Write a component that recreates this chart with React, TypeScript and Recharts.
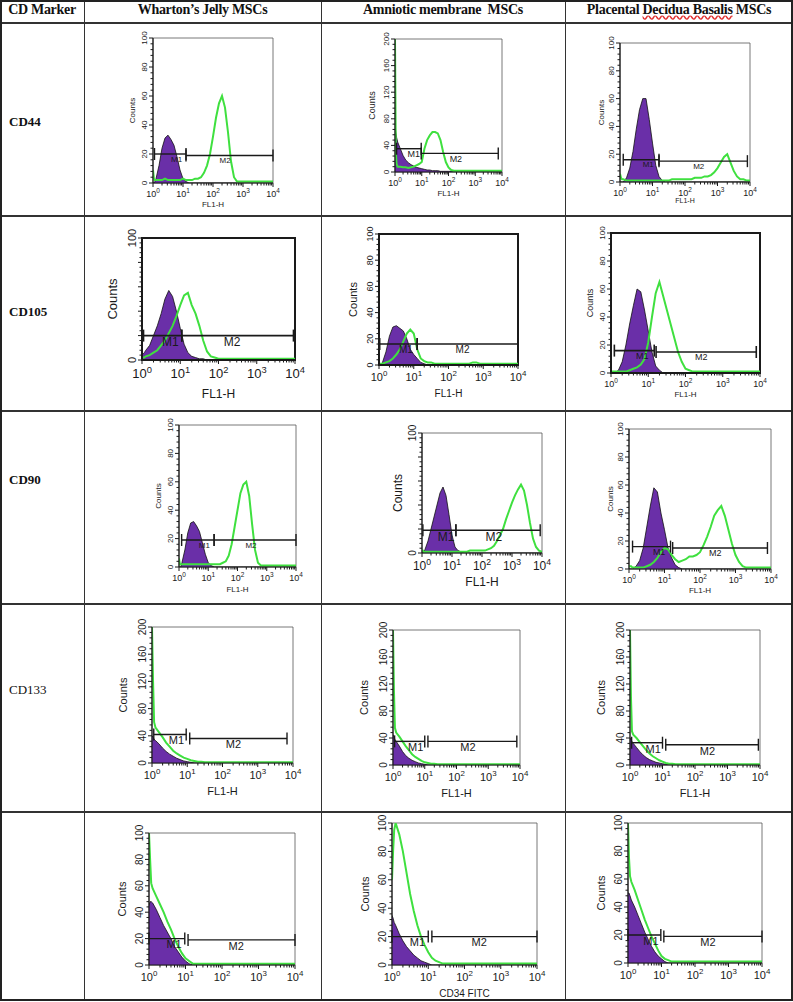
import React from 'react';
import { ComposedChart, Area, Line, XAxis, YAxis, ReferenceLine, ReferenceArea, ReferenceDot } from 'recharts';

// log10 of fluorescence (FL1-H), 10^0 .. 10^4
const LOG_X = [0, 0.03, 0.06, 0.1, 0.2, 0.3, 0.4, 0.5, 0.6, 0.7, 0.8, 0.9, 1,
  1.1, 1.2, 1.3, 1.4, 1.5, 1.6, 1.7, 1.8, 1.9, 2,
  2.1, 2.2, 2.3, 2.4, 2.5, 2.6, 2.7, 2.8, 2.9, 3,
  3.1, 3.2, 3.3, 3.4, 3.5, 3.6, 3.7, 3.8, 3.9, 4];
const X_EXPONENTS = ['0', '1', '2', '3', '4'];
const COL_HEADERS = ['CD Marker', 'Wharton\u2019s Jelly MSCs', 'Amniotic membrane  MSCs', 'Placental Decidua Basalis MSCs'];
const ROW_LABELS = ['CD44', 'CD105', 'CD90', 'CD133', ''];

// ---- CD44 ----
const WJ_CD44_NEG = [0, 0, 1, 3, 12, 24, 31, 33, 30, 26, 18, 9, 3, 1, 0, 0, 0, 0, 0, 0, 0, 0, 0, 0, 0, 0, 0, 0, 0, 0, 0, 0, 0, 0, 0, 0, 0, 0, 0, 0, 0, 0, 0];
const WJ_CD44_POS = [9, 3, 2, 2, 2, 2, 3, 2, 2, 2, 2, 2, 3, 2, 2, 2, 3, 3, 4, 7, 12, 20, 32, 45, 55, 60, 52, 35, 15, 4, 1, 1, 1, 1, 1, 1, 1, 1, 1, 1, 1, 1, 1];
const WJ_CD44_GATES = [0.05, 1.1, 20, 1.1, 4.0, 19];
const AM_CD44_NEG = [72, 60, 52, 45, 35, 25, 18, 14, 11, 9, 7, 6, 5, 4, 3, 3, 2, 2, 2, 1, 1, 1, 1, 1, 0, 0, 0, 0, 0, 0, 0, 0, 0, 0, 0, 0, 0, 0, 0, 0, 0, 0, 0];
const AM_CD44_POS = [200, 30, 12, 8, 8, 7, 7, 6, 7, 8, 10, 12, 15, 35, 48, 55, 60, 60, 58, 48, 30, 15, 7, 3, 2, 2, 2, 2, 2, 2, 2, 2, 2, 2, 2, 2, 2, 2, 2, 2, 2, 2, 2];
const AM_CD44_GATES = [0.06, 0.98, 35, 0.98, 3.86, 28];
const PDB_CD44_NEG = [0, 0, 0, 0, 3, 10, 22, 38, 52, 60, 60, 45, 28, 12, 4, 1, 0, 0, 0, 0, 0, 0, 0, 0, 0, 0, 0, 0, 0, 0, 0, 0, 0, 0, 0, 0, 0, 0, 0, 0, 0, 0, 0];
const PDB_CD44_POS = [6, 3, 2, 2, 1, 1, 1, 1, 1, 1, 1, 1, 1, 1, 1, 1, 1, 1, 2, 2, 2, 2, 2, 2, 2, 3, 3, 3, 4, 4, 5, 7, 10, 14, 18, 20, 14, 8, 4, 2, 2, 1, 1];
const PDB_CD44_GATES = [0.1, 1.2, 16, 1.2, 3.92, 15];

// ---- CD105 ----
const WJ_CD105_NEG = [4, 5, 6, 8, 12, 20, 28, 38, 50, 57, 52, 40, 26, 13, 6, 3, 2, 1, 1, 0, 0, 0, 0, 0, 0, 0, 0, 0, 0, 0, 0, 0, 0, 0, 0, 0, 0, 0, 0, 0, 0, 0, 0];
const WJ_CD105_POS = [2, 2, 2, 3, 4, 6, 8, 12, 16, 22, 28, 36, 45, 53, 55, 45, 38, 28, 16, 7, 3, 2, 1, 1, 1, 1, 1, 1, 1, 1, 1, 1, 1, 1, 1, 1, 1, 1, 1, 1, 1, 1, 1];
const WJ_CD105_GATES = [0.04, 1.04, 20, 1.04, 3.96, 20];
const AM_CD105_NEG = [0, 0, 0, 2, 10, 22, 29, 30, 28, 26, 20, 12, 8, 5, 2, 1, 0, 0, 0, 0, 0, 0, 0, 0, 0, 0, 0, 0, 0, 0, 0, 0, 0, 0, 0, 0, 0, 0, 0, 0, 0, 0, 0];
const AM_CD105_POS = [1, 1, 1, 1, 2, 3, 5, 8, 12, 18, 24, 27, 24, 12, 5, 3, 2, 2, 1, 1, 1, 1, 1, 1, 1, 1, 1, 1, 1, 2, 2, 1, 1, 1, 1, 1, 1, 1, 1, 1, 1, 1, 1];
const AM_CD105_GATES = [0.02, 1.1, 16, 1.1, 4.0, 16];
const PDB_CD105_NEG = [0, 0, 0, 0, 2, 8, 20, 35, 48, 60, 58, 45, 30, 15, 5, 2, 0, 0, 0, 0, 0, 0, 0, 0, 0, 0, 0, 0, 0, 0, 0, 0, 0, 0, 0, 0, 0, 0, 0, 0, 0, 0, 0];
const PDB_CD105_POS = [1, 1, 1, 1, 1, 1, 1, 2, 3, 4, 6, 10, 22, 40, 57, 65, 55, 45, 35, 25, 15, 8, 3, 2, 1, 1, 1, 1, 1, 1, 1, 1, 1, 1, 1, 1, 1, 1, 1, 1, 1, 1, 1];
const PDB_CD105_GATES = [0.09, 1.16, 16, 1.21, 3.9, 15];

// ---- CD90 ----
const WJ_CD90_NEG = [0, 0, 0, 3, 12, 24, 31, 32, 29, 25, 17, 9, 3, 1, 0, 0, 0, 0, 0, 0, 0, 0, 0, 0, 0, 0, 0, 0, 0, 0, 0, 0, 0, 0, 0, 0, 0, 0, 0, 0, 0, 0, 0];
const WJ_CD90_POS = [6, 2, 2, 2, 2, 2, 2, 2, 2, 2, 2, 2, 2, 2, 2, 2, 2, 3, 4, 8, 16, 28, 40, 52, 58, 60, 50, 30, 12, 3, 1, 1, 1, 1, 1, 1, 1, 1, 1, 1, 1, 1, 1];
const WJ_CD90_GATES = [0.09, 1.2, 19, 1.2, 4.0, 19];
const AM_CD90_NEG = [0, 0, 1, 3, 10, 20, 30, 40, 50, 55, 48, 32, 15, 5, 2, 1, 0, 0, 0, 0, 0, 0, 0, 0, 0, 0, 0, 0, 0, 0, 0, 0, 0, 0, 0, 0, 0, 0, 0, 0, 0, 0, 0];
const AM_CD90_POS = [2, 2, 1, 1, 1, 1, 1, 1, 1, 1, 1, 1, 1, 1, 1, 1, 1, 1, 2, 2, 2, 2, 2, 2, 3, 4, 6, 10, 15, 20, 28, 35, 42, 48, 53, 57, 52, 40, 25, 12, 5, 2, 1];
const AM_CD90_GATES = [0.03, 1.13, 19, 1.13, 3.94, 19];
const PDB_CD90_NEG = [0, 0, 0, 0, 2, 6, 15, 30, 45, 58, 55, 40, 28, 15, 8, 3, 1, 0, 0, 0, 0, 0, 0, 0, 0, 0, 0, 0, 0, 0, 0, 0, 0, 0, 0, 0, 0, 0, 0, 0, 0, 0, 0];
const PDB_CD90_POS = [2, 2, 2, 1, 1, 1, 1, 2, 3, 5, 8, 12, 15, 14, 10, 7, 5, 6, 7, 9, 9, 10, 12, 17, 23, 30, 38, 42, 45, 38, 28, 18, 10, 5, 2, 1, 1, 1, 1, 1, 1, 1, 1];
const PDB_CD90_GATES = [0.1, 1.17, 16, 1.23, 3.9, 15];

// ---- CD133 ----
const WJ_CD133_NEG = [40, 38, 35, 33, 28, 22, 17, 13, 10, 7, 5, 3, 2, 1, 0, 0, 0, 0, 0, 0, 0, 0, 0, 0, 0, 0, 0, 0, 0, 0, 0, 0, 0, 0, 0, 0, 0, 0, 0, 0, 0, 0, 0];
const WJ_CD133_POS = [200, 120, 60, 52, 45, 38, 30, 24, 18, 14, 11, 8, 6, 4, 3, 2, 2, 1, 1, 1, 1, 1, 1, 1, 1, 1, 1, 1, 1, 1, 1, 1, 1, 1, 1, 1, 1, 1, 1, 1, 1, 1, 1];
const WJ_CD133_GATES = [0.05, 0.97, 42, 1.07, 3.83, 36];
const AM_CD133_NEG = [45, 42, 38, 35, 28, 20, 14, 10, 7, 5, 3, 2, 1, 0, 0, 0, 0, 0, 0, 0, 0, 0, 0, 0, 0, 0, 0, 0, 0, 0, 0, 0, 0, 0, 0, 0, 0, 0, 0, 0, 0, 0, 0];
const AM_CD133_POS = [200, 110, 55, 48, 42, 35, 28, 22, 16, 12, 9, 6, 4, 3, 2, 2, 1, 1, 1, 1, 1, 1, 1, 1, 1, 1, 1, 1, 1, 1, 1, 1, 1, 1, 1, 1, 1, 1, 1, 1, 1, 1, 1];
const AM_CD133_GATES = [0.05, 1.0, 35, 1.1, 3.9, 35];
const PDB_CD133_NEG = [40, 38, 35, 32, 26, 20, 15, 11, 8, 6, 4, 3, 2, 1, 0, 0, 0, 0, 0, 0, 0, 0, 0, 0, 0, 0, 0, 0, 0, 0, 0, 0, 0, 0, 0, 0, 0, 0, 0, 0, 0, 0, 0];
const PDB_CD133_POS = [200, 100, 50, 45, 40, 34, 28, 22, 17, 13, 10, 7, 5, 3, 2, 2, 1, 1, 1, 1, 1, 1, 1, 1, 1, 1, 1, 1, 1, 1, 1, 1, 1, 1, 1, 1, 1, 1, 1, 1, 1, 1, 1];
const PDB_CD133_GATES = [0.05, 1.0, 33, 1.1, 3.95, 30];

// ---- CD34 ----
const WJ_CD34_NEG = [45, 48, 48, 47, 42, 36, 30, 25, 20, 14, 10, 6, 3, 1, 0, 0, 0, 0, 0, 0, 0, 0, 0, 0, 0, 0, 0, 0, 0, 0, 0, 0, 0, 0, 0, 0, 0, 0, 0, 0, 0, 0, 0];
const WJ_CD34_POS = [100, 80, 62, 58, 52, 46, 40, 33, 27, 20, 14, 9, 5, 3, 1, 1, 1, 1, 1, 1, 1, 1, 1, 1, 1, 1, 1, 1, 1, 1, 1, 1, 1, 1, 1, 1, 1, 1, 1, 1, 1, 1, 1];
const WJ_CD34_GATES = [0, 0.98, 20, 1.07, 4.0, 19];
const AM_CD34_NEG = [35, 33, 30, 28, 22, 17, 13, 10, 7, 5, 3, 2, 1, 0, 0, 0, 0, 0, 0, 0, 0, 0, 0, 0, 0, 0, 0, 0, 0, 0, 0, 0, 0, 0, 0, 0, 0, 0, 0, 0, 0, 0, 0];
const AM_CD34_POS = [60, 80, 95, 100, 92, 80, 65, 50, 38, 28, 20, 14, 9, 5, 3, 2, 1, 1, 1, 1, 1, 1, 1, 1, 1, 1, 1, 1, 1, 1, 1, 1, 1, 1, 1, 1, 1, 1, 1, 1, 1, 1, 1];
const AM_CD34_GATES = [0, 1.0, 20, 1.1, 4.0, 20];
const PDB_CD34_NEG = [50, 50, 48, 45, 40, 34, 28, 22, 17, 12, 8, 5, 3, 1, 0, 0, 0, 0, 0, 0, 0, 0, 0, 0, 0, 0, 0, 0, 0, 0, 0, 0, 0, 0, 0, 0, 0, 0, 0, 0, 0, 0, 0];
const PDB_CD34_POS = [100, 75, 62, 58, 52, 45, 38, 31, 25, 19, 14, 9, 5, 3, 2, 1, 1, 1, 1, 1, 1, 1, 1, 1, 1, 1, 1, 1, 1, 1, 1, 1, 1, 1, 1, 1, 1, 1, 1, 1, 1, 1, 1];
const PDB_CD34_GATES = [0, 0.98, 20, 1.07, 4.0, 19];

const Y100 = [0, 20, 40, 60, 80, 100];
const Y200 = [0, 40, 80, 120, 160, 200];
const Y100_SPARSE = [0, 100];

// layout (positions / fonts) kept separate from data
type Panel = {
  neg: number[]; pos: number[]; gates: number[]; yMax: number; yLab: number[];
  plot: [number, number, number, number]; f: [number, number, number, number, number];
  cdx: number; ldy: number; thick: boolean; xLabel: string;
};
const PANELS: Panel[] = [
  { neg: WJ_CD44_NEG, pos: WJ_CD44_POS, gates: WJ_CD44_GATES, yMax: 100, yLab: Y100, plot: [153, 38, 120, 145], f: [8, 9, 8, 8, 8], cdx: 21, ldy: 22, thick: false, xLabel: 'FL1-H' },
  { neg: AM_CD44_NEG, pos: AM_CD44_POS, gates: AM_CD44_GATES, yMax: 200, yLab: Y200, plot: [395, 39, 107, 133], f: [8, 9, 9, 8, 9], cdx: 23, ldy: 22, thick: false, xLabel: 'FL1-H' },
  { neg: PDB_CD44_NEG, pos: PDB_CD44_POS, gates: PDB_CD44_GATES, yMax: 100, yLab: Y100, plot: [620, 43, 130, 139], f: [8, 9, 8, 7, 8], cdx: 19, ldy: 20, thick: false, xLabel: 'FL1-H' },
  { neg: WJ_CD105_NEG, pos: WJ_CD105_POS, gates: WJ_CD105_GATES, yMax: 100, yLab: Y100_SPARSE, plot: [142, 238, 153, 122], f: [11, 13, 13, 12, 12], cdx: 30, ldy: 35, thick: true, xLabel: 'FL1-H' },
  { neg: AM_CD105_NEG, pos: AM_CD105_POS, gates: AM_CD105_GATES, yMax: 100, yLab: Y100, plot: [379, 234, 139, 131], f: [9, 11, 11, 10, 10], cdx: 26, ldy: 30, thick: true, xLabel: 'FL1-H' },
  { neg: PDB_CD105_NEG, pos: PDB_CD105_POS, gates: PDB_CD105_GATES, yMax: 100, yLab: Y100, plot: [611, 233, 149, 140], f: [8, 9, 9, 8, 9], cdx: 21, ldy: 22, thick: true, xLabel: 'FL1-H' },
  { neg: WJ_CD90_NEG, pos: WJ_CD90_POS, gates: WJ_CD90_GATES, yMax: 100, yLab: Y100, plot: [179, 425, 117, 142], f: [8, 9, 8, 8, 8], cdx: 21, ldy: 23, thick: false, xLabel: 'FL1-H' },
  { neg: AM_CD90_NEG, pos: AM_CD90_POS, gates: AM_CD90_GATES, yMax: 100, yLab: Y100_SPARSE, plot: [422, 433, 120, 120], f: [10, 12, 12, 12, 12], cdx: 24, ldy: 30, thick: false, xLabel: 'FL1-H' },
  { neg: PDB_CD90_NEG, pos: PDB_CD90_POS, gates: PDB_CD90_GATES, yMax: 100, yLab: Y100, plot: [629, 429, 142, 140], f: [8, 9, 8, 8, 9], cdx: 19, ldy: 22, thick: false, xLabel: 'FL1-H' },
  { neg: WJ_CD133_NEG, pos: WJ_CD133_POS, gates: WJ_CD133_GATES, yMax: 200, yLab: Y200, plot: [152, 627, 141, 136], f: [10, 11, 11, 11, 11], cdx: 29, ldy: 30, thick: false, xLabel: 'FL1-H' },
  { neg: AM_CD133_NEG, pos: AM_CD133_POS, gates: AM_CD133_GATES, yMax: 200, yLab: Y200, plot: [393, 630, 127, 135], f: [10, 11, 11, 11, 11], cdx: 29, ldy: 30, thick: false, xLabel: 'FL1-H' },
  { neg: PDB_CD133_NEG, pos: PDB_CD133_POS, gates: PDB_CD133_GATES, yMax: 200, yLab: Y200, plot: [630, 630, 130, 135], f: [10, 11, 11, 11, 11], cdx: 29, ldy: 30, thick: false, xLabel: 'FL1-H' },
  { neg: WJ_CD34_NEG, pos: WJ_CD34_POS, gates: WJ_CD34_GATES, yMax: 100, yLab: Y100, plot: [149, 833, 146, 132], f: [10, 11, 11, 11, 11], cdx: 27, ldy: 30, thick: false, xLabel: '' },
  { neg: AM_CD34_NEG, pos: AM_CD34_POS, gates: AM_CD34_GATES, yMax: 100, yLab: Y100, plot: [392, 823, 145, 142], f: [10, 11, 11, 10, 11], cdx: 27, ldy: 30, thick: false, xLabel: 'CD34  FITC' },
  { neg: PDB_CD34_NEG, pos: PDB_CD34_POS, gates: PDB_CD34_GATES, yMax: 100, yLab: Y100, plot: [628, 823, 134, 140], f: [10, 11, 11, 11, 11], cdx: 27, ldy: 30, thick: false, xLabel: '' },
];

const SANS = '"Liberation Sans", Arial, sans-serif';
const SERIF = '"Liberation Serif", "Times New Roman", serif';
const PURPLE = '#6a2fa8';
const GREEN = '#3fe03f';
const INK = '#1a1a1a';

const X_TICKS: number[] = [];
for (let n = 0; n < 4; n++) {
  X_TICKS.push(n);
  for (let k = 2; k <= 9; k++) X_TICKS.push(n + Math.log10(k));
}
X_TICKS.push(4);

const makeXTick = (fs: number) => (props: any) => {
  const { x, y, payload } = props;
  const v = payload.value as number;
  const major = Math.abs(v - Math.round(v)) < 1e-6;
  return (
    <g>
      <line x1={x} x2={x} y1={y} y2={y + (major ? 4 : 2.5)} stroke={INK} strokeWidth={1} />
      {major && (
        <text x={x} y={y + 5 + fs} textAnchor="middle" fontSize={fs} fill={INK} fontFamily={SANS}>
          <tspan>10</tspan>
          <tspan dy={-fs * 0.42} fontSize={fs * 0.72}>{X_EXPONENTS[Math.round(v)]}</tspan>
        </text>
      )}
    </g>
  );
};

const makeYTick = (fs: number, labeled: number[], yMax: number) => (props: any) => {
  const { x, y, payload } = props;
  const v = payload.value as number;
  const major = Math.round((v * 25) / yMax) % 5 === 0;
  const tx = x - 6;
  return (
    <g>
      <line x1={x - (major ? 4 : 2.5)} x2={x} y1={y} y2={y} stroke={INK} strokeWidth={1} />
      {labeled.includes(v) && (
        <text x={tx} y={y} transform={`rotate(-90 ${tx} ${y})`} textAnchor="middle" fontSize={fs} fill={INK} fontFamily={SANS}>
          {v}
        </text>
      )}
    </g>
  );
};

const ML = 40, MT = 12, MR = 12, XH = 44;

function Histogram({ p }: { p: Panel }) {
  const [px, py, pw, ph] = p.plot;
  const [yf, xf, cf, lf, mf] = p.f;
  const data = LOG_X.map((x, i) => ({ x, neg: p.neg[i], pos: p.pos[i] }));
  const yTicks: number[] = [];
  for (let i = 0; i <= 25; i++) yTicks.push((i * p.yMax) / 25);
  const [a1, a2, ay, b1, b2, by] = p.gates;
  const bar = (p.yMax * 6) / ph;
  const gw = p.thick ? 1.6 : 1.4;
  return (
    <div style={{ position: 'absolute', left: px - ML, top: py - MT }}>
      <ComposedChart width={pw + ML + MR} height={ph + MT + XH} data={data} margin={{ top: MT, right: MR, left: 0, bottom: 0 }}>
        <XAxis
          dataKey="x" type="number" domain={[0, 4]} ticks={X_TICKS} interval={0}
          tick={makeXTick(xf)} tickLine={false} tickSize={0} tickMargin={0} height={XH}
          stroke={INK} strokeWidth={p.thick ? 2 : 1.2} allowDataOverflow
          label={{ value: p.xLabel, position: 'insideTop', offset: p.ldy - lf / 2, style: { fontSize: lf, fill: INK, fontFamily: SANS, whiteSpace: 'pre' } }}
        />
        <YAxis
          type="number" domain={[0, p.yMax]} ticks={yTicks} interval={0}
          tick={makeYTick(yf, p.yLab, p.yMax)} tickLine={false} tickSize={0} tickMargin={0} width={ML}
          stroke={INK} strokeWidth={p.thick ? 2 : 1.2} allowDataOverflow
          label={{ value: 'Counts', angle: -90, position: 'insideLeft', offset: ML - p.cdx, style: { textAnchor: 'middle', fontSize: cf, fill: INK, fontFamily: SANS } }}
        />
        <ReferenceArea x1={0} x2={4} y1={0} y2={p.yMax} fill="none" stroke={p.thick ? INK : '#555'} strokeWidth={p.thick ? 2 : 0.8} ifOverflow="visible" />
        <Area dataKey="neg" type="linear" fill={PURPLE} fillOpacity={1} stroke="#111" strokeWidth={0.8} dot={false} activeDot={false} isAnimationActive={false} />
        <Line dataKey="pos" type="linear" stroke={GREEN} strokeWidth={2} dot={false} activeDot={false} isAnimationActive={false} />
        <ReferenceLine segment={[{ x: a1, y: ay }, { x: a2, y: ay }]} stroke={INK} strokeWidth={gw} ifOverflow="visible" />
        <ReferenceLine segment={[{ x: a1, y: ay - bar }, { x: a1, y: ay + bar }]} stroke={INK} strokeWidth={gw} ifOverflow="visible" />
        <ReferenceLine segment={[{ x: a2, y: ay - bar }, { x: a2, y: ay + bar }]} stroke={INK} strokeWidth={gw} ifOverflow="visible" />
        <ReferenceLine segment={[{ x: b1, y: by }, { x: b2, y: by }]} stroke={INK} strokeWidth={gw} ifOverflow="visible" />
        <ReferenceLine segment={[{ x: b1, y: by - bar }, { x: b1, y: by + bar }]} stroke={INK} strokeWidth={gw} ifOverflow="visible" />
        <ReferenceLine segment={[{ x: b2, y: by - bar }, { x: b2, y: by + bar }]} stroke={INK} strokeWidth={gw} ifOverflow="visible" />
        <ReferenceDot x={a1 + (a2 - a1) * 0.7} y={ay} r={0} fill="none" stroke="none" ifOverflow="visible"
          label={{ value: 'M1', position: 'bottom', offset: 2, fontSize: mf, fill: INK, fontFamily: SANS }} />
        <ReferenceDot x={b1 + (b2 - b1) * 0.45} y={by} r={0} fill="none" stroke="none" ifOverflow="visible"
          label={{ value: 'M2', position: 'bottom', offset: 2, fontSize: mf, fill: INK, fontFamily: SANS }} />
      </ComposedChart>
    </div>
  );
}

const COL_X = [0, 84, 321, 565, 793];
const ROW_Y = [0, 22, 215, 410, 603, 811, 1000];
const ROW_LABEL_Y = [122, 312, 480, 690, 900];

export default function App() {
  const hLine = (y: number, w = 1.5) => (
    <div key={'h' + y} style={{ position: 'absolute', left: 0, top: y, width: 793, height: w, background: '#333' }} />
  );
  const vLine = (x: number) => (
    <div key={'v' + x} style={{ position: 'absolute', left: x, top: 0, width: 1.2, height: 1000, background: '#333' }} />
  );
  return (
    <div style={{ position: 'absolute', left: 0, top: 0, width: 793, height: 1002, background: '#fff', fontFamily: SERIF, overflow: 'hidden' }}>
      {ROW_Y.slice(1, 6).map((y) => hLine(y))}
      {COL_X.slice(1, 4).map((x) => vLine(x))}
      <div style={{ position: 'absolute', left: 0, top: 0, width: 789, height: 997, border: '2px solid #222' }} />
      {COL_HEADERS.map((h, i) => (
        <div key={h} style={{ position: 'absolute', left: COL_X[i], top: 2, width: COL_X[i + 1] - COL_X[i], textAlign: 'center', fontWeight: 'bold', fontSize: 14, whiteSpace: 'pre', color: '#111', letterSpacing: -0.3 }}>
          {i === 3 ? (
            <span>Placental <span style={{ textDecoration: 'underline wavy #e03030' }}>Decidua Basalis</span> MSCs</span>
          ) : h}
        </div>
      ))}
      {ROW_LABELS.map((r, i) => (
        <div key={'r' + i} style={{ position: 'absolute', left: 9, top: ROW_LABEL_Y[i] - 8, fontWeight: r === 'CD133' ? 'normal' : 'bold', fontSize: 13, color: '#111' }}>{r}</div>
      ))}
      {PANELS.map((p, i) => <Histogram key={i} p={p} />)}
    </div>
  );
}
